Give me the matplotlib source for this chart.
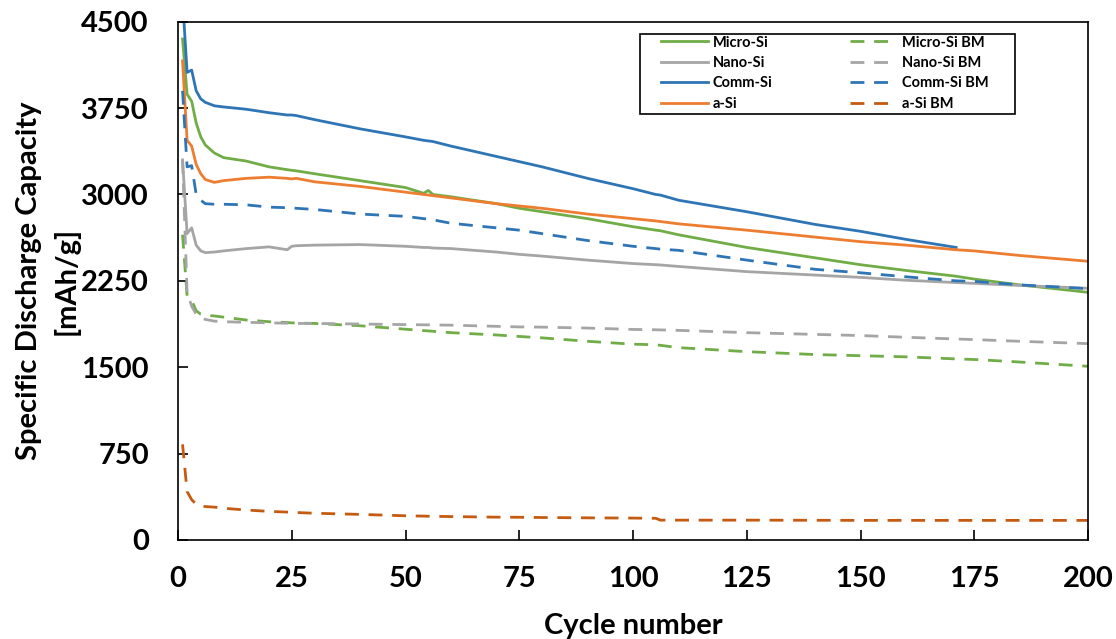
import numpy as np
import matplotlib
matplotlib.use("Agg")
import matplotlib.pyplot as plt
from matplotlib.patches import Rectangle

cycles = [1, 2, 3, 4, 5, 6, 8, 10, 15, 20, 24, 25, 26, 30, 40, 50, 54, 55, 56, 60,
          70, 75, 80, 90, 100, 105, 106, 110, 125, 140, 150, 160, 171, 175, 185, 200]

micro_si = [4350, 3870, 3810, 3620, 3500, 3430, 3360, 3320, 3290, 3240, 3215, 3210, 3205, 3180,
            3120, 3060, 3010, 3035, 3000, 2980, 2920, 2880, 2850, 2790, 2720, 2690, 2685, 2650,
            2540, 2450, 2390, 2340, 2290, 2265, 2215, 2150]
nano_si = [3300, 2660, 2710, 2560, 2510, 2495, 2500, 2510, 2530, 2545, 2520, 2550, 2555, 2560,
           2565, 2550, 2540, 2540, 2535, 2530, 2500, 2480, 2465, 2430, 2400, 2390, 2388, 2375,
           2330, 2300, 2280, 2255, 2235, 2228, 2210, 2185]
comm_si = [4700, 4060, 4080, 3900, 3830, 3800, 3770, 3760, 3740, 3710, 3690, 3690, 3685, 3650,
           3570, 3500, 3470, 3465, 3460, 3420, 3330, 3285, 3240, 3140, 3050, 3000, 2995, 2950,
           2850, 2740, 2680, 2610, 2540, np.nan, np.nan, np.nan]
a_si = [4160, 3470, 3420, 3260, 3180, 3130, 3105, 3120, 3140, 3150, 3140, 3135, 3140, 3110,
        3070, 3020, 3000, 2995, 2990, 2970, 2920, 2900, 2880, 2830, 2790, 2770, 2765, 2745,
        2690, 2630, 2590, 2560, 2520, 2510, 2470, 2420]

micro_si_bm = [2650, 2120, 2080, 1990, 1960, 1950, 1945, 1935, 1910, 1895, 1888, 1885, 1884, 1880,
               1860, 1830, 1818, 1815, 1812, 1800, 1780, 1767, 1755, 1725, 1700, 1695, 1690, 1670,
               1635, 1610, 1600, 1590, 1572, 1567, 1545, 1508]
nano_si_bm = [3300, 2150, 2030, 1960, 1930, 1915, 1900, 1895, 1890, 1885, 1882, 1880, 1880, 1880,
              1875, 1870, 1868, 1868, 1867, 1865, 1855, 1850, 1848, 1840, 1828, 1825, 1824, 1820,
              1800, 1785, 1775, 1760, 1745, 1740, 1725, 1705]
comm_si_bm = [3900, 3240, 3250, 3000, 2950, 2920, 2915, 2915, 2910, 2890, 2885, 2885, 2880, 2870,
              2830, 2810, 2790, 2785, 2780, 2750, 2710, 2690, 2660, 2600, 2550, 2530, 2525, 2515,
              2430, 2350, 2320, 2285, 2250, 2245, 2215, 2182]
a_si_bm = [830, 420, 350, 310, 295, 290, 285, 275, 260, 248, 242, 240, 238, 232,
           222, 210, 207, 206, 205, 203, 198, 197, 195, 192, 190, 188, 172, 172,
           172, 171, 170, 170, 170, 170, 170, 170]

labels = ["Micro-Si", "Nano-Si", "Comm-Si", "a-Si",
          "Micro-Si BM", "Nano-Si BM", "Comm-Si BM", "a-Si BM"]

green = "#70AD47"
grey = "#A5A5A5"
blue = "#2E75B6"
orange = "#ED7D31"
dark_orange = "#C55A11"

plt.rcParams['font.family'] = ['Lato', 'DejaVu Sans']
plt.rcParams['font.weight'] = 'bold'

fig = plt.figure(figsize=(11.16, 6.39), dpi=100)
ax = fig.add_axes([0.1595, 0.155, 0.8155, 0.811])

lw = 2.0
dash = (5, 3.5)
ax.plot(cycles, micro_si, color=green, lw=lw, label=labels[0])
ax.plot(cycles, nano_si, color=grey, lw=lw, label=labels[1])
ax.plot(cycles, comm_si, color=blue, lw=lw, label=labels[2])
ax.plot(cycles, a_si, color=orange, lw=lw, label=labels[3])
ax.plot(cycles, micro_si_bm, color=green, lw=lw, dashes=dash, label=labels[4])
ax.plot(cycles, nano_si_bm, color=grey, lw=lw, dashes=dash, label=labels[5])
ax.plot(cycles, comm_si_bm, color=blue, lw=lw, dashes=dash, label=labels[6])
ax.plot(cycles, a_si_bm, color=dark_orange, lw=lw, dashes=dash, label=labels[7])

ax.set_xlim(0, 200)
ax.set_ylim(0, 4500)
ax.set_xticks(np.arange(0, 201, 25))
ax.set_yticks(np.arange(0, 4501, 750))

for s in ax.spines.values():
    s.set_color("black")
    s.set_linewidth(1.2)

ax.tick_params(axis='both', direction='in', length=7, width=1.2,
               labelsize=21, top=False, right=False)
ax.tick_params(axis='y', pad=21)
ax.tick_params(axis='x', pad=19)
for t in ax.get_xticklabels() + ax.get_yticklabels():
    t.set_fontweight('bold')

ax.set_xlabel("Cycle number", fontsize=21, fontweight='bold', labelpad=15)
ax.set_ylabel("Specific Discharge Capacity\n[mAh/g]", fontsize=21, fontweight='bold',
              labelpad=1, linespacing=1.5)

# legend box is wider than its content, like the Excel original
ax.add_patch(Rectangle((0.5077, 0.8224), 0.4121, 0.1544, transform=ax.transAxes,
                       facecolor='white', edgecolor='black', lw=1.2, zorder=5))
leg = ax.legend(loc='upper right', bbox_to_anchor=(0.8967, 0.9846), borderaxespad=0,
                ncol=2, fontsize=10.5, frameon=False, handlelength=3.2, columnspacing=5.3,
                labelspacing=0.44, borderpad=0.4, handletextpad=0.35)
leg.set_zorder(6)
for t in leg.get_texts():
    t.set_fontweight('bold')

fig.savefig("out.png", dpi=100)
